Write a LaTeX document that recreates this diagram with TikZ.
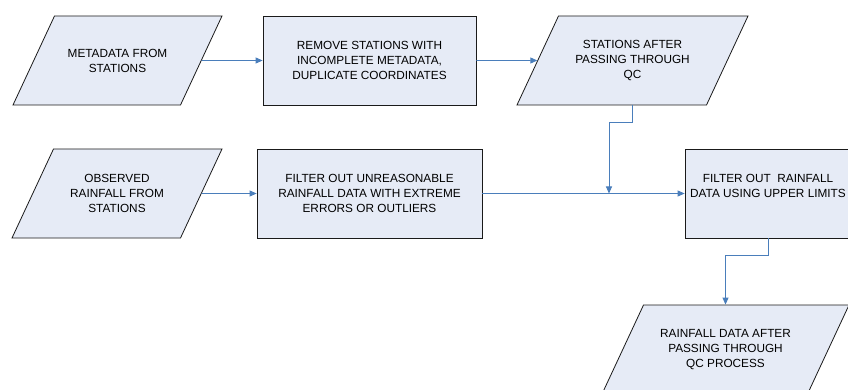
\documentclass[tikz,border=0pt]{standalone}
\usepackage{fontspec}
\setmainfont{Liberation Sans}
\usetikzlibrary{arrows.meta,shapes.geometric}
\definecolor{qcfill}{HTML}{E6EBF6}
\definecolor{qcline}{HTML}{4A7EBB}
\definecolor{qcedge}{HTML}{1A1A1A}
\newcommand{\qctext}[2][120pt]{\parbox[c][89pt][c]{#1}{\centering #2}}

\begin{document}
\begin{tikzpicture}[x=1pt,y=-1pt,font=\fontsize{11.8}{15}\selectfont,>=Triangle,
    databox/.style={trapezium,trapezium left angle=65,trapezium right angle=115,trapezium stretches body,
      draw=qcedge,fill=qcfill,line width=0.8pt,inner sep=0pt},
    procbox/.style={rectangle,draw=qcedge,fill=qcfill,line width=0.8pt,minimum height=89pt,inner sep=2pt,align=center},
    flow/.style={->,qcline,line width=0.9pt,arrows={-Triangle[length=7pt,width=6pt]}}]
    \useasboundingbox (0,0) rectangle (848,390);
    % top row
    \node[databox,minimum width=209pt] (meta) at (117.5,60.5) {\qctext{METADATA FROM\\STATIONS}};
    \node[procbox,minimum width=213pt] (remove) at (369.5,60.5) {REMOVE STATIONS WITH\\INCOMPLETE METADATA,\\DUPLICATE COORDINATES};
    \node[databox,minimum width=231pt] (stations) at (632.5,60.5) {\qctext{STATIONS AFTER\\PASSING THROUGH\\QC}};
    % second row
    \node[databox,minimum width=210pt] (observed) at (117,193.5) {\qctext{OBSERVED\\RAINFALL FROM\\STATIONS}};
    \node[procbox,minimum width=225pt] (filterout) at (369.5,193.5) {FILTER OUT UNREASONABLE\\RAINFALL DATA WITH EXTREME\\ERRORS OR OUTLIERS};
    \node[procbox,minimum width=166pt] (upper) at (768,193.5) {FILTER OUT\ \ RAINFALL\\DATA USING UPPER LIMITS\\\mbox{}};
    % result
    \node[databox,minimum width=247pt] (result) at (725.5,349.5) {\qctext[150pt]{RAINFALL DATA AFTER\\PASSING THROUGH\\QC PROCESS}};
    \coordinate (join) at (609,193.5);
    \draw[flow] (meta.east) -- (remove.west);
    \draw[flow] (remove.east) -- (stations.west);
    \draw[flow] (observed.east) -- (filterout.west);
    \draw[flow] (filterout.east) -- (upper.west);
    \draw[flow] (stations.south) -- ++(0,17) -| (join);
    \draw[flow] (upper.south) -- ++(0,17) -| (result.north);
\end{tikzpicture}
\end{document}
